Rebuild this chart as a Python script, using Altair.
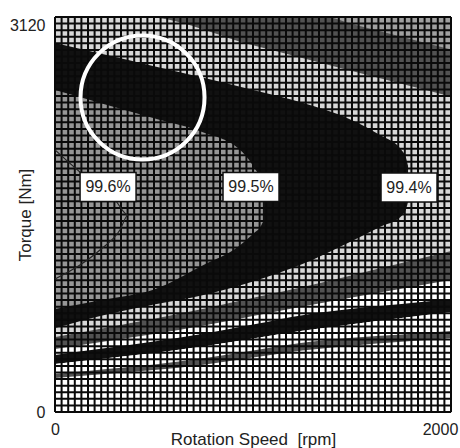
import altair as alt
import pandas as pd

FONT = "Liberation Sans"

# ---- band boundaries (torque in Nm at given speeds in rpm) ----
rpm = [0, 250, 500, 750, 1000, 1250, 1500, 1750, 2000]
b_light_dark = [592, 664, 736, 815, 902, 988, 1081, 1176, 1272]
b_dark_mid = [498, 557, 616, 683, 759, 834, 905, 974, 1043]
b_mid_black = [450, 503, 557, 619, 691, 764, 815, 854, 893]
b_black_white = [379, 423, 467, 519, 581, 641, 694, 742, 790]
b_white_dark = [300, 338, 375, 424, 486, 547, 586, 613, 640]
b_dark_mid2 = [269, 300, 331, 374, 430, 486, 524, 554, 585]

top_rpm = [0, 444, 1000, 1364, 1500, 2000]
top_a = [3120, 3120, 2896, 2749, 2694, 2492]
top_b = [3120, 3120, 3120, 3120, 3065, 2863]

out_rpm = [0, 250, 500, 750, 1000, 1250, 1500, 1641, 1750, 1773, 1783]
out_top = [2915, 2823, 2731, 2640, 2543, 2442, 2305, 2188, 2069, 2006, 1943]
out_bot = [663, 766, 849, 924, 1031, 1169, 1351, 1461, 1548, 1603, 1659]

in_rpm = [0, 250, 500, 750, 930, 1000, 1040, 1050]
in_top = [2543, 2431, 2320, 2208, 2077, 1943, 1817, 1714]
in_bot = [814, 889, 968, 1161, 1311, 1406, 1469, 1501]

line_rpm = [0, 126, 227, 303, 369, 328, 227, 126, 0]
line_nm = [2070, 1896, 1777, 1675, 1556, 1438, 1280, 1161, 1051]

lab_text = ["99.6%", "99.5%", "99.4%"]
lab_rpm = [268, 990, 1788]
lab_nm = [1777, 1777, 1773]

circ_rpm = [442]
circ_nm = [2484]

grid_n = 60
grid_rpm = [i * 2000 / grid_n for i in range(grid_n + 1)]
grid_nm = [i * 3120 / grid_n for i in range(grid_n + 1)]

MID, BLACK, LIGHT, DARK, WHITE, CORNER = "#969696", "#111111", "#d8d8d8", "#525252", "#ffffff", "#a0a0a0"

xs = alt.Scale(domain=[0, 2000], nice=False, zero=False)
ys = alt.Scale(domain=[0, 3120], nice=False, zero=False)

x_axis = alt.Axis(values=[0, 2000], format="d", grid=False, ticks=False, tickSize=0, domain=False,
                  labelFlush=False, labelOverlap=False,
                  labelFontSize=16, labelFont=FONT, labelColor="#222", labelPadding=9,
                  labelOffset={"condition": {"test": "datum.value == 2000", "value": -11}, "value": 0},
                  title="Rotation Speed\u00a0 [rpm]", titleFont=FONT, titleFontSize=17,
                  titleFontWeight="normal", titleColor="#222", titleBaseline="alphabetic", titleY=32)
y_axis = alt.Axis(values=[0, 3120], format="d", grid=False, ticks=False, tickSize=0, domain=False,
                  labelFlush=False, labelOverlap=False,
                  labelFontSize=16, labelFont=FONT, labelColor="#222", labelPadding=10,
                  labelBaseline={"condition": {"test": "datum.value == 3120", "value": "top"}, "value": "middle"},
                  title="Torque [Nm]", titleFont=FONT, titleFontSize=17,
                  titleFontWeight="normal", titleColor="#222", titleBaseline="alphabetic",
                  titleX=-25, titleY=197.5, titleAngle=270)


def X(f="rpm"):
    return alt.X(f"{f}:Q", scale=xs, axis=x_axis)


def Y(f="nm"):
    return alt.Y(f"{f}:Q", scale=ys, axis=y_axis, stack=None)


def band(xv, lo, hi, color):
    df = pd.DataFrame({"rpm": xv, "lo": lo, "hi": hi})
    return alt.Chart(df).mark_area(color=color, opacity=1, interpolate="monotone").encode(
        x=X(), y=Y("lo"), y2="hi:Q")


full_top = [3120] * len(rpm)
layers = [
    band(rpm, b_light_dark, full_top, LIGHT),
    band(top_rpm, top_a, [3120] * len(top_rpm), DARK),
    band(top_rpm, top_b, [3120] * len(top_rpm), CORNER),
    band(out_rpm, out_bot, out_top, BLACK),
    band(in_rpm, in_bot, in_top, MID),
    band(rpm, b_dark_mid, b_light_dark, DARK),
    band(rpm, b_black_white, b_mid_black, BLACK),
    band(rpm, b_white_dark, b_black_white, WHITE),
    band(rpm, b_dark_mid2, b_white_dark, DARK),
]

gx = pd.DataFrame({"rpm": grid_rpm})
gy = pd.DataFrame({"nm": grid_nm})
layers.append(alt.Chart(gx).mark_rule(color="#0a0a0a", strokeWidth=2.0, opacity=1).encode(x=X()))
layers.append(alt.Chart(gy).mark_rule(color="#0a0a0a", strokeWidth=2.0, opacity=1).encode(y=Y()))

line_df = pd.DataFrame({"rpm": line_rpm, "nm": line_nm, "i": list(range(len(line_rpm)))})
layers.append(alt.Chart(line_df).mark_line(color="#222", strokeWidth=1.2, interpolate="monotone").encode(
    x=X(), y=Y(), order="i:Q"))

lab_df = pd.DataFrame({"rpm": lab_rpm, "nm": lab_nm, "t": lab_text})
layers.append(alt.Chart(lab_df).mark_point(
    shape="M-1,-0.518H1V0.518H-1Z", size=3136, filled=True, fill="white", stroke="#111",
    strokeWidth=1.5, opacity=1).encode(x=X(), y=Y()))
layers.append(alt.Chart(lab_df).mark_text(font=FONT, fontSize=16, color="#222").encode(
    x=X(), y=Y(), text="t:N"))

circ_df = pd.DataFrame({"rpm": circ_rpm, "nm": circ_nm})
layers.append(alt.Chart(circ_df).mark_point(
    shape="circle", size=15376, filled=False, stroke="white", strokeWidth=4, opacity=1).encode(
    x=X(), y=Y()))

chart = alt.layer(*layers).properties(
    width=396, height=395,
    autosize=alt.AutoSizeParams(type="none"),
    padding={"left": 55, "top": 17, "right": 9, "bottom": 36},
).configure_view(fill=MID, stroke=None).configure(background="white")

chart.save("out.html", embed_options={"renderer": "svg", "actions": False})
